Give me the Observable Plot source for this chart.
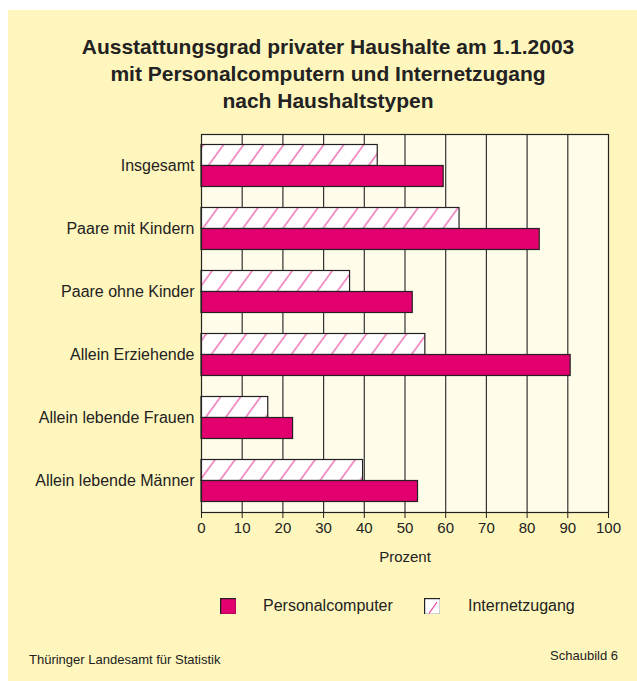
<!DOCTYPE html>
<html>
<head>
<meta charset="utf-8">
<script src="https://cdn.jsdelivr.net/npm/d3@7"></script>
<script src="https://cdn.jsdelivr.net/npm/@observablehq/plot@0.6"></script>
<style>
  html, body { margin: 0; padding: 0; background: #ffffff; }
  body { position: relative; width: 637px; height: 681px; overflow: hidden; font-family: "Liberation Sans", Arial, sans-serif; color: #222; }
  #panel { position: absolute; left: 8px; top: 10px; width: 629px; height: 671px; background: #fff6bd; }
  #title { position: absolute; left: 0; width: 656px; top: 33px; text-align: center; font-weight: bold; font-size: 21px; line-height: 27px; color: #222; }
  #chart { position: absolute; left: 0; top: 120px; }
  .leg { position: absolute; font-size: 16px; line-height: 16px; color: #222; }
  .sw { position: absolute; width: 16px; height: 16px; }
  .foot { position: absolute; font-size: 13px; color: #222; }
</style>
</head>
<body>
<div id="panel"></div>
<div id="title">Ausstattungsgrad privater Haushalte am 1.1.2003<br>mit Personalcomputern und Internetzugang<br>nach Haushaltstypen</div>
<div id="chart"></div>
<div id="legend"></div>
<div class="foot" style="left:29px; top:652px;">Thüringer Landesamt für Statistik</div>
<div class="foot" style="right:19px; top:648px;">Schaubild 6</div>
<script>
const categories = ["Insgesamt", "Paare mit Kindern", "Paare ohne Kinder", "Allein Erziehende", "Allein lebende Frauen", "Allein lebende Männer"];
const personalcomputer = [59.5, 83.1, 51.9, 90.7, 22.5, 53.2];
const internetzugang = [43.3, 63.4, 36.5, 55.0, 16.4, 39.7];
const seriesNames = ["Personalcomputer", "Internetzugang"];
const xTicks = [0, 10, 20, 30, 40, 50, 60, 70, 80, 90, 100];
const gridTicks = [10, 20, 30, 40, 50, 60, 70, 80, 90];

const pink = "#e2006f";
const data = categories.map((c, i) => ({category: c, pc: personalcomputer[i], internet: internetzugang[i]}));

const H = 450, mTop = 14, mBottom = 58;
const band = (H - mTop - mBottom) / categories.length;
const pad = band / 6;
const barH = (band - 2 * pad) / 2;

const plot = Plot.plot({
  width: 637,
  height: H,
  marginLeft: 201,
  marginRight: 29,
  marginTop: mTop,
  marginBottom: mBottom,
  style: {background: "transparent", fontFamily: "Liberation Sans, Arial, sans-serif", color: "#222"},
  x: {domain: [0, 100]},
  y: {domain: categories, padding: 0},
  marks: [
    Plot.frame({fill: "#fffcea", stroke: "none"}),
    Plot.gridX(gridTicks, {stroke: "#333", strokeOpacity: 1, strokeWidth: 1.2}),
    Plot.barX(data, {y: "category", x: "internet", fill: "url(#hatch)", stroke: "#222", strokeWidth: 1.2, insetTop: pad, insetBottom: pad + barH}),
    Plot.barX(data, {y: "category", x: "pc", fill: pink, stroke: "#222", strokeWidth: 1.2, insetTop: pad + barH, insetBottom: pad}),
    Plot.frame({stroke: "#222", strokeWidth: 1.2}),
    Plot.axisX({ticks: xTicks, tickSize: 6, tickPadding: 4, fontSize: 15, stroke: "#222", label: "Prozent", labelAnchor: "center", labelArrow: "none", labelOffset: 49}),
    Plot.axisY({tickSize: 0, tickPadding: 7, fontSize: 16, label: null})
  ]
});

const svg = d3.select(plot);
const defs = svg.insert("defs", ":first-child");
const pat = defs.append("pattern")
  .attr("id", "hatch")
  .attr("patternUnits", "userSpaceOnUse")
  .attr("width", 16.2)
  .attr("height", 16.2)
  .attr("patternTransform", "rotate(36)");
pat.append("rect").attr("width", 16.2).attr("height", 16.2).attr("fill", "#ffffff");
pat.append("line").attr("x1", 1).attr("y1", 0).attr("x2", 1).attr("y2", 16.2).attr("stroke", "#e8409a").attr("stroke-width", 1.1);

document.getElementById("chart").appendChild(plot);

// Legend
const legend = document.getElementById("legend");
const items = [
  {name: seriesNames[0], swX: 220, txX: 263, type: "solid"},
  {name: seriesNames[1], swX: 424, txX: 468, type: "hatch"}
];
items.forEach(it => {
  const sw = document.createElementNS("http://www.w3.org/2000/svg", "svg");
  sw.setAttribute("class", "sw");
  sw.setAttribute("width", 17);
  sw.setAttribute("height", 17);
  sw.style.left = it.swX + "px";
  sw.style.top = "598px";
  if (it.type === "solid") {
    sw.innerHTML = `<rect x="0.6" y="0.6" width="15.8" height="15.8" fill="${pink}" stroke="#222" stroke-width="1.2"/>`;
  } else {
    sw.innerHTML = `<rect x="0.6" y="0.6" width="15.8" height="15.8" fill="#fff" stroke="#222" stroke-width="1.2"/><line x1="5" y1="15.5" x2="13" y2="4" stroke="#e8409a" stroke-width="1.2"/>`;
  }
  legend.appendChild(sw);
  const t = document.createElement("div");
  t.className = "leg";
  t.style.left = it.txX + "px";
  t.style.top = "598px";
  t.textContent = it.name;
  legend.appendChild(t);
});
</script>
</body>
</html>
